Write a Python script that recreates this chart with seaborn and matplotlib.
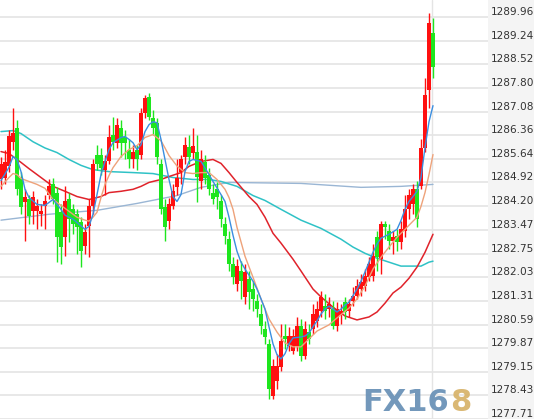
import matplotlib
matplotlib.use("Agg")
import matplotlib.pyplot as plt
import seaborn as sns

# OHLC per candle (Chinese convention: red = up, green = down)
opens = [
    1285.01, 1285.07, 1285.41, 1286.16, 1286.59, 1285.07, 1284.31, 1284.40, 1284.04, 1284.04,
    1283.95, 1284.19, 1284.55, 1284.86, 1284.61, 1284.01, 1283.25, 1284.40, 1284.10, 1283.95,
    1283.70, 1282.98, 1283.58, 1284.19, 1285.77, 1285.77, 1285.31, 1285.56, 1286.38, 1286.13,
    1286.59, 1286.29, 1285.92, 1285.62, 1285.92, 1285.77, 1287.04, 1287.53, 1286.89, 1286.74,
    1285.47, 1284.16, 1283.74, 1284.19, 1284.77, 1285.25, 1285.68, 1286.01, 1285.83, 1285.86,
    1284.95, 1285.53, 1285.16, 1284.61, 1284.71, 1284.34, 1283.64, 1283.19, 1282.43, 1281.82,
    1282.22, 1281.43, 1281.97, 1281.67, 1281.31, 1280.91, 1280.45, 1280.00, 1278.42, 1278.88,
    1279.30, 1280.24, 1279.94, 1279.79, 1279.94, 1280.55, 1279.63, 1280.36, 1280.45, 1280.70,
    1281.00, 1281.15, 1281.06, 1281.06, 1280.55, 1280.88, 1281.27, 1281.00, 1281.31, 1281.46,
    1281.67, 1281.76, 1282.03, 1282.06, 1283.25, 1282.58, 1283.64, 1283.43, 1283.13, 1283.28,
    1283.10, 1283.43, 1284.10, 1284.25, 1284.71, 1284.80, 1285.97, 1287.74, 1289.47]
highs = [
    1285.68, 1285.92, 1286.53, 1287.20, 1286.83, 1285.25, 1284.71, 1284.55, 1284.65, 1284.40,
    1284.25, 1284.55, 1285.01, 1285.07, 1284.77, 1284.25, 1284.80, 1284.61, 1284.25, 1284.10,
    1283.86, 1283.64, 1284.40, 1285.62, 1286.07, 1285.97, 1285.77, 1286.68, 1286.92, 1286.89,
    1286.83, 1286.53, 1286.23, 1286.07, 1286.07, 1287.20, 1287.59, 1287.65, 1287.14, 1286.89,
    1285.62, 1284.40, 1284.46, 1284.86, 1285.62, 1285.77, 1286.29, 1286.38, 1286.59, 1286.38,
    1285.92, 1285.77, 1285.37, 1284.86, 1284.92, 1284.55, 1283.86, 1283.43, 1282.64, 1282.58,
    1282.52, 1282.43, 1282.22, 1281.91, 1281.52, 1281.21, 1280.70, 1280.15, 1279.54, 1279.70,
    1280.61, 1280.61, 1280.52, 1280.45, 1280.82, 1280.76, 1280.70, 1280.61, 1281.21, 1281.31,
    1281.61, 1281.52, 1281.43, 1281.31, 1281.27, 1281.21, 1281.43, 1281.37, 1281.73, 1281.97,
    1282.13, 1282.28, 1282.64, 1283.04, 1283.43, 1283.74, 1283.74, 1283.64, 1283.43, 1283.49,
    1283.74, 1284.55, 1284.71, 1284.86, 1284.95, 1286.23, 1288.11, 1290.08, 1289.93]
lows = [
    1284.71, 1284.86, 1285.25, 1285.92, 1284.55, 1283.95, 1283.13, 1283.64, 1283.64, 1283.49,
    1283.58, 1283.49, 1284.40, 1284.25, 1282.49, 1282.43, 1282.67, 1283.10, 1283.34, 1282.73,
    1282.34, 1282.73, 1282.64, 1283.95, 1285.31, 1285.16, 1284.55, 1285.47, 1285.92, 1285.97,
    1285.68, 1285.62, 1285.37, 1285.37, 1285.31, 1285.62, 1286.89, 1286.83, 1286.38, 1285.47,
    1283.95, 1283.13, 1283.49, 1284.10, 1284.55, 1284.86, 1285.47, 1285.47, 1285.62, 1284.31,
    1284.71, 1284.86, 1284.55, 1284.25, 1284.10, 1283.55, 1283.04, 1282.22, 1281.82, 1281.61,
    1281.37, 1281.21, 1281.06, 1281.00, 1280.82, 1280.30, 1280.00, 1278.33, 1278.33, 1278.63,
    1279.18, 1279.85, 1279.79, 1279.70, 1279.79, 1279.48, 1279.54, 1280.00, 1280.30, 1280.52,
    1280.82, 1280.76, 1280.82, 1280.45, 1280.39, 1280.61, 1280.76, 1280.82, 1281.15, 1281.37,
    1281.46, 1281.61, 1281.91, 1281.91, 1282.22, 1282.13, 1283.19, 1282.88, 1282.73, 1282.82,
    1282.88, 1283.25, 1283.80, 1283.95, 1283.55, 1284.71, 1285.86, 1287.20, 1288.11]
closes = [
    1285.47, 1285.53, 1286.32, 1286.44, 1284.71, 1284.16, 1284.49, 1283.89, 1284.49, 1284.19,
    1284.04, 1284.34, 1284.80, 1284.40, 1283.25, 1282.95, 1284.34, 1283.80, 1283.64, 1283.55,
    1282.82, 1283.40, 1284.19, 1285.47, 1285.47, 1285.37, 1285.56, 1286.29, 1286.16, 1286.68,
    1286.13, 1286.13, 1285.62, 1285.86, 1285.62, 1287.04, 1287.50, 1286.92, 1286.59, 1285.71,
    1284.10, 1283.55, 1284.25, 1284.65, 1285.07, 1285.62, 1286.07, 1285.71, 1286.04, 1285.10,
    1285.62, 1285.07, 1284.71, 1284.40, 1284.49, 1283.80, 1283.28, 1282.43, 1282.03, 1282.37,
    1281.91, 1282.19, 1281.58, 1281.37, 1281.06, 1280.55, 1280.21, 1278.63, 1279.33, 1279.33,
    1280.09, 1280.15, 1280.24, 1280.24, 1280.55, 1279.63, 1280.45, 1280.15, 1280.91, 1281.06,
    1281.43, 1281.00, 1281.21, 1280.55, 1281.06, 1281.00, 1280.97, 1281.21, 1281.46, 1281.76,
    1281.88, 1282.06, 1282.43, 1282.67, 1282.64, 1283.64, 1283.55, 1283.13, 1283.25, 1283.10,
    1283.49, 1284.10, 1284.55, 1284.71, 1283.80, 1285.97, 1287.59, 1289.78, 1288.44]

# moving average lines, read at candle indices
ma_blue_x = [0, 2, 3, 4, 5, 6, 7, 9, 11, 12, 13, 15, 16, 18, 19, 21, 22, 23, 24, 25,
             26, 27, 28, 30, 31, 32, 33, 34, 35, 36, 37, 38, 39, 40, 41, 42, 43, 44, 45, 46,
             47, 48, 50, 52, 53, 55, 56, 57, 58, 59, 60, 61, 63, 64, 65, 66, 67, 68, 69, 70,
             71, 72, 73, 75, 76, 77, 78, 79, 80, 81, 82, 84, 85, 86, 87, 89, 90, 91, 92, 93,
             94, 95, 97, 99, 100, 101, 102, 103, 104, 105, 106, 107, 108]
ma_blue = [1284.98, 1285.38, 1285.71, 1285.62, 1285.25, 1284.71, 1284.46, 1284.25, 1284.22, 1284.31,
           1284.40, 1284.10, 1283.92, 1283.80, 1283.70, 1283.49, 1283.58, 1283.95, 1284.55, 1285.16,
           1285.56, 1285.92, 1286.13, 1286.29, 1286.32, 1286.23, 1286.13, 1285.92, 1286.07, 1286.47,
           1286.68, 1286.77, 1286.74, 1286.23, 1285.62, 1285.01, 1284.49, 1284.34, 1284.55, 1285.25,
           1285.56, 1285.62, 1285.56, 1285.16, 1284.95, 1284.55, 1284.34, 1283.86, 1283.31, 1282.82,
           1282.49, 1282.28, 1281.91, 1281.67, 1281.37, 1281.06, 1280.52, 1280.00, 1279.67, 1279.54,
           1279.70, 1280.00, 1280.18, 1280.21, 1280.24, 1280.33, 1280.52, 1280.70, 1280.91, 1281.06,
           1281.15, 1280.97, 1281.06, 1281.18, 1281.27, 1281.67, 1281.91, 1282.19, 1282.49, 1282.79,
           1283.04, 1283.22, 1283.34, 1283.49, 1283.76, 1284.10, 1284.34, 1284.49, 1284.65, 1285.07,
           1285.98, 1286.77, 1287.26]

ma_orange_x = [0, 2, 3, 4, 5, 7, 9, 11, 13, 15, 17, 19, 21, 22, 23, 24, 25, 26, 27, 28,
               30, 32, 34, 36, 38, 40, 41, 42, 44, 46, 48, 50, 52, 54, 56, 57, 58, 59, 61, 63,
               65, 67, 69, 71, 73, 75, 77, 79, 82, 84, 87, 89, 91, 93, 95, 97, 99, 101, 103, 104,
               105, 106, 107, 108]
ma_orange = [1284.80, 1285.07, 1285.19, 1285.16, 1285.04, 1284.95, 1284.86, 1284.74, 1284.40, 1284.22,
             1284.04, 1283.86, 1283.77, 1283.74, 1283.86, 1284.01, 1284.46, 1284.86, 1285.13, 1285.37,
             1285.71, 1285.92, 1286.04, 1286.29, 1286.38, 1286.19, 1285.97, 1285.74, 1285.42, 1285.22,
             1285.19, 1285.22, 1285.22, 1285.01, 1284.71, 1284.46, 1284.10, 1283.55, 1282.67, 1282.03,
             1281.37, 1280.76, 1280.36, 1280.03, 1279.91, 1279.91, 1280.15, 1280.39, 1280.58, 1280.79,
             1281.09, 1281.37, 1281.76, 1282.28, 1282.64, 1282.95, 1283.25, 1283.49, 1283.74, 1283.86,
             1284.19, 1284.61, 1285.16, 1285.77]

ma_red_x = [0, 2, 5, 7, 10, 13, 16, 19, 22, 25, 27, 30, 33, 35, 37, 40, 42, 45, 47, 50,
            53, 55, 57, 59, 62, 64, 66, 68, 70, 73, 75, 78, 80, 83, 86, 89, 92, 94, 96, 98,
            100, 102, 104, 106, 108]
ma_red = [1285.86, 1285.80, 1285.53, 1285.34, 1285.07, 1284.80, 1284.65, 1284.49, 1284.40, 1284.49,
          1284.61, 1284.65, 1284.71, 1284.80, 1284.92, 1285.01, 1285.10, 1285.22, 1285.41, 1285.56,
          1285.62, 1285.50, 1285.22, 1284.92, 1284.49, 1284.25, 1283.86, 1283.37, 1283.07, 1282.58,
          1282.22, 1281.67, 1281.43, 1281.12, 1280.85, 1280.73, 1280.82, 1280.97, 1281.24, 1281.55,
          1281.73, 1282.00, 1282.34, 1282.79, 1283.34]

ma_cyan_x = [0, 3, 5, 8, 11, 14, 17, 20, 23, 27, 33, 38, 43, 48, 52, 55, 59, 63, 66, 70,
             75, 80, 85, 88, 91, 94, 97, 100, 103, 105, 107, 108]
ma_cyan = [1286.47, 1286.50, 1286.41, 1286.16, 1285.97, 1285.83, 1285.62, 1285.44, 1285.31, 1285.25,
           1285.22, 1285.19, 1285.07, 1285.01, 1285.01, 1284.95, 1284.80, 1284.52, 1284.37, 1284.10,
           1283.77, 1283.52, 1283.19, 1282.95, 1282.76, 1282.61, 1282.49, 1282.37, 1282.37, 1282.37,
           1282.49, 1282.52]

ma_gray_x = [0, 12, 24, 34, 44, 50, 57, 75, 90, 100, 108]
ma_gray = [1283.77, 1283.95, 1284.07, 1284.28, 1284.52, 1284.77, 1284.92, 1284.89, 1284.77, 1284.80,
           1284.86]

tick_values = [1277.71, 1278.43, 1279.15, 1279.87, 1280.59, 1281.31, 1282.03, 1282.75, 1283.47,
               1284.20, 1284.92, 1285.64, 1286.36, 1287.08, 1287.80, 1288.52, 1289.24, 1289.96]
tick_labels = ["1277.71", "1278.43", "1279.15", "1279.87", "1280.59", "1281.31", "1282.03",
               "1282.75", "1283.47", "1284.20", "1284.92", "1285.64", "1286.36", "1287.08",
               "1287.80", "1288.52", "1289.24", "1289.96"]

sns.set_style("white")
plt.rcParams['font.family'] = ['DejaVu Sans']

fig = plt.figure(figsize=(5.34, 4.19), dpi=100)
fig.patch.set_facecolor('#f4f4f4')
ax = fig.add_axes([0, 0, 488 / 534, 1])
ax.set_facecolor('white')

# gridlines
for v in tick_values:
    ax.axhline(v, color='#e4e4e4', lw=1.2, zorder=0)
ax.axvline(107.75, color='#e4e4e4', lw=1.0, zorder=0)

# moving averages
sns.lineplot(x=ma_gray_x, y=ma_gray, color='#9ab6d4', lw=1.0, ax=ax, zorder=2)
sns.lineplot(x=ma_cyan_x, y=ma_cyan, color='#2fc2c6', lw=1.1, ax=ax, zorder=2)
sns.lineplot(x=ma_red_x, y=ma_red, color='#e0232b', lw=1.1, ax=ax, zorder=2)

# candles
up_col = '#ff1010'
down_col = '#1ee61e'
for i in range(len(opens)):
    o, h, l, c = opens[i], highs[i], lows[i], closes[i]
    col = up_col if c >= o else down_col
    ax.vlines(i, l, h, color=col, lw=1.0, zorder=3)
    body = max(abs(c - o), 0.04)
    ax.bar(i, body, bottom=min(o, c), width=0.82, color=col, linewidth=0, zorder=4)

sns.lineplot(x=ma_orange_x, y=ma_orange, color='#eea27a', lw=1.0, ax=ax, zorder=5)
sns.lineplot(x=ma_blue_x, y=ma_blue, color='#3a8ee0', lw=1.0, ax=ax, zorder=6)

ax.set_xlim(-0.25, 121.75)
ax.set_ylim(1277.75, 1290.48)
ax.set_xticks([])
ax.yaxis.tick_right()
ax.set_yticks(tick_values)
ax.set_yticklabels(tick_labels, fontsize=7.6, color='#333333')
ax.tick_params(axis='y', length=0, pad=2)
for lab in ax.get_yticklabels():
    lab.set_verticalalignment('bottom')
for s in ax.spines.values():
    s.set_visible(False)
ax.set_xlabel('')
ax.set_ylabel('')

# watermark
fig.text(362 / 534, 2 / 419, 'FX16', fontsize=22, fontweight='bold', color='#6b93b8',
         va='bottom', ha='left', alpha=0.95)
fig.text(450 / 534, 2 / 419, '8', fontsize=22, fontweight='bold', color='#d8b46c',
         va='bottom', ha='left', alpha=0.95)

fig.savefig('out.png', dpi=100)
